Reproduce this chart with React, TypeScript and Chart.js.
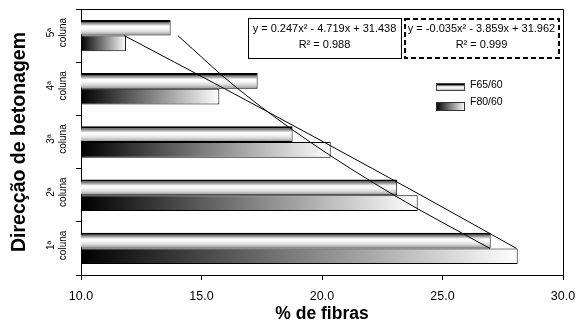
import React, { useEffect, useRef } from 'react';
import { Chart, registerables } from 'chart.js';

Chart.register(...registerables);

// ---- data ----
const categoryNumbers = ['5ª', '4ª', '3ª', '2ª', '1ª'];
const categoryWord = 'coluna';
const seriesNames = ['F65/60', 'F80/60'];
const f65Values = [13.72, 17.33, 18.78, 23.12, 27.0];
const f80Values = [11.87, 15.74, 20.36, 23.97, 28.12];
const f65Trend = [14.018, 16.514, 19.504, 22.988, 26.966];
const f80Trend = [11.792, 15.966, 20.07, 24.104, 28.068];
const xTickValues = [10, 15, 20, 25, 30];
const eqF65 = ['y = 0.247x² - 4.719x + 31.438', 'R² = 0.988'];
const eqF80 = ['y = -0.035x² - 3.859x + 31.962', 'R² = 0.999'];
const xTitle = '% de fibras';
const yTitle = 'Direcção de betonagem';

const FONT = "Arial, 'Liberation Sans', sans-serif";
const CAT_PCT = 0.59;

function f65Stops(g: CanvasGradient) {
  g.addColorStop(0, '#555');
  g.addColorStop(0.15, '#aaa');
  g.addColorStop(0.32, '#fff');
  g.addColorStop(0.5, '#f6f6f6');
  g.addColorStop(0.72, '#d8d8d8');
  g.addColorStop(0.9, '#a8a8a8');
  g.addColorStop(1, '#888');
  return g;
}

function f65Fill(c: any) {
  const chart = c.chart;
  const area = chart.chartArea;
  if (!area || c.type !== 'data') return '#ddd';
  const center = chart.scales.y.getPixelForValue(c.dataIndex);
  const band = ((area.bottom - area.top) / categoryNumbers.length) * CAT_PCT / 2;
  const g = chart.ctx.createLinearGradient(0, center - band + 2, 0, center);
  return f65Stops(g);
}

function f80Fill(c: any) {
  const chart = c.chart;
  const area = chart.chartArea;
  if (!area || c.type !== 'data') return '#888';
  const x1 = chart.scales.x.getPixelForValue(c.raw);
  const g = chart.ctx.createLinearGradient(area.left, 0, x1, 0);
  g.addColorStop(0, '#000');
  g.addColorStop(1, '#fff');
  return g;
}

const decorPlugin = {
  id: 'decor',
  afterDraw(chart: any) {
    const { ctx, chartArea: a, scales } = chart;
    ctx.save();
    // frame top/right
    ctx.strokeStyle = '#000';
    ctx.lineWidth = 1;
    ctx.beginPath();
    ctx.moveTo(Math.round(a.left) + 0.5, Math.round(a.top) + 0.5);
    ctx.lineTo(Math.round(a.right) + 0.5, Math.round(a.top) + 0.5);
    ctx.lineTo(Math.round(a.right) + 0.5, Math.round(a.bottom) + 0.5);
    ctx.stroke();

    // category labels (rotated)
    ctx.fillStyle = '#000';
    ctx.font = `10px ${FONT}`;
    ctx.textAlign = 'center';
    ctx.textBaseline = 'alphabetic';
    categoryNumbers.forEach((n, i) => {
      const cy = scales.y.getPixelForValue(i) - 3;
      ctx.save();
      ctx.translate(54, cy);
      ctx.rotate(-Math.PI / 2);
      ctx.fillText(n, 0, 0);
      ctx.restore();
      ctx.save();
      ctx.translate(66, cy);
      ctx.rotate(-Math.PI / 2);
      ctx.fillText(categoryWord, 0, 0);
      ctx.restore();
    });

    // equation boxes
    const boxes = [
      { x: 248, y: 18, w: 153, h: 40, text: eqF65, dashed: false },
      { x: 404, y: 18, w: 155, h: 40, text: eqF80, dashed: true },
    ];
    boxes.forEach((b) => {
      ctx.fillStyle = '#fff';
      ctx.fillRect(b.x, b.y, b.w, b.h);
      ctx.strokeStyle = '#000';
      if (b.dashed) {
        ctx.lineWidth = 2;
        ctx.setLineDash([5, 3]);
        ctx.strokeRect(b.x + 1, b.y + 1, b.w - 1, b.h - 1);
        ctx.setLineDash([]);
      } else {
        ctx.lineWidth = 1;
        ctx.strokeRect(b.x + 0.5, b.y + 0.5, b.w, b.h);
      }
      ctx.fillStyle = '#000';
      ctx.font = `11px ${FONT}`;
      ctx.textAlign = 'center';
      ctx.textBaseline = 'middle';
      ctx.fillText(b.text[0], b.x + b.w / 2, b.y + 10.5);
      ctx.fillText(b.text[1], b.x + b.w / 2, b.y + 27);
    });

    // legend
    const lx = 436, lw = 29;
    let g = ctx.createLinearGradient(0, 85, 0, 91);
    f65Stops(g);
    ctx.fillStyle = g;
    ctx.fillRect(lx, 83, lw, 8);
    ctx.fillStyle = '#000';
    ctx.fillRect(lx, 83, lw, 2);
    ctx.strokeStyle = '#444';
    ctx.lineWidth = 1;
    ctx.strokeRect(lx + 0.5, 83.5, lw - 1, 7);
    g = ctx.createLinearGradient(lx, 0, lx + lw, 0);
    g.addColorStop(0, '#000');
    g.addColorStop(1, '#fff');
    ctx.fillStyle = g;
    ctx.fillRect(lx, 102, lw, 8);
    ctx.strokeStyle = '#333';
    ctx.strokeRect(lx + 0.5, 102.5, lw - 1, 8);
    ctx.fillStyle = '#000';
    ctx.font = `10.5px ${FONT}`;
    ctx.textAlign = 'left';
    ctx.textBaseline = 'middle';
    ctx.fillText(seriesNames[0], 470, 85);
    ctx.fillText(seriesNames[1], 470, 102);
    ctx.restore();
  },
};

export default function App() {
  const ref = useRef<HTMLCanvasElement | null>(null);
  useEffect(() => {
    if (!ref.current) return;
    const chart = new Chart(ref.current, {
      type: 'bar',
      data: {
        labels: categoryNumbers.map((n) => `${n} ${categoryWord}`),
        datasets: [
          {
            type: 'line',
            label: 'trend ' + seriesNames[0],
            data: f65Trend,
            indexAxis: 'y',
            borderColor: '#000',
            borderWidth: 1,
            pointRadius: 0,
            cubicInterpolationMode: 'monotone',
            fill: false,
            order: -1,
          } as any,
          {
            type: 'line',
            label: 'trend ' + seriesNames[1],
            data: f80Trend,
            indexAxis: 'y',
            borderColor: '#000',
            borderWidth: 1,
            pointRadius: 0,
            cubicInterpolationMode: 'monotone',
            fill: false,
            order: -1,
          } as any,
          {
            type: 'bar',
            label: seriesNames[0],
            data: f65Values,
            backgroundColor: f65Fill,
            borderColor: '#000',
            borderWidth: { top: 2, right: 1, bottom: 1, left: 1 },
            borderSkipped: false,
            categoryPercentage: CAT_PCT,
            barPercentage: 1,
          } as any,
          {
            type: 'bar',
            label: seriesNames[1],
            data: f80Values,
            backgroundColor: f80Fill,
            borderColor: '#000',
            borderWidth: 1,
            borderSkipped: false,
            categoryPercentage: CAT_PCT,
            barPercentage: 1,
          } as any,
        ],
      },
      options: {
        indexAxis: 'y',
        animation: false,
        responsive: false,
        layout: { padding: { left: 0, right: 14, top: 9, bottom: 0 } },
        font: { family: FONT },
        plugins: {
          legend: { display: false },
          tooltip: { enabled: false },
        },
        scales: {
          x: {
            type: 'linear',
            min: 10,
            max: 30,
            afterBuildTicks: (s: any) => {
              s.ticks = xTickValues.map((v) => ({ value: v }));
            },
            afterFit: (s: any) => {
              s.height = 48;
              s.paddingLeft = 0;
              s.paddingRight = 0;
            },
            ticks: {
              color: '#000',
              font: { family: FONT, size: 12.5 },
              padding: 9,
              callback: (v: any) => Number(v).toFixed(1),
            },
            grid: {
              drawOnChartArea: false,
              drawTicks: true,
              tickLength: 5,
              color: '#000',
            },
            border: { display: true, color: '#000', width: 1 },
            title: {
              display: true,
              text: xTitle,
              color: '#000',
              font: { family: FONT, size: 17.5, weight: 'bold' },
              padding: { top: 0, bottom: -2 },
            },
          },
          y: {
            type: 'category',
            offset: true,
            afterFit: (s: any) => {
              s.width = 81;
              s.paddingTop = 0;
              s.paddingBottom = 0;
            },
            ticks: { display: false },
            grid: {
              offset: true,
              drawOnChartArea: false,
              drawTicks: true,
              tickLength: 5,
              color: '#000',
            },
            border: { display: true, color: '#000', width: 1 },
            title: {
              display: true,
              text: yTitle,
              color: '#000',
              font: { family: FONT, size: 19.5, weight: 'bold' },
              padding: { top: 8, bottom: 0 },
            },
          },
        },
      } as any,
      plugins: [decorPlugin],
    });
    return () => chart.destroy();
  }, []);
  return (
    <div style={{ position: 'absolute', left: 0, top: 0, width: 577, height: 323, background: '#fff' }}>
      <canvas ref={ref} width={577} height={323} />
    </div>
  );
}
